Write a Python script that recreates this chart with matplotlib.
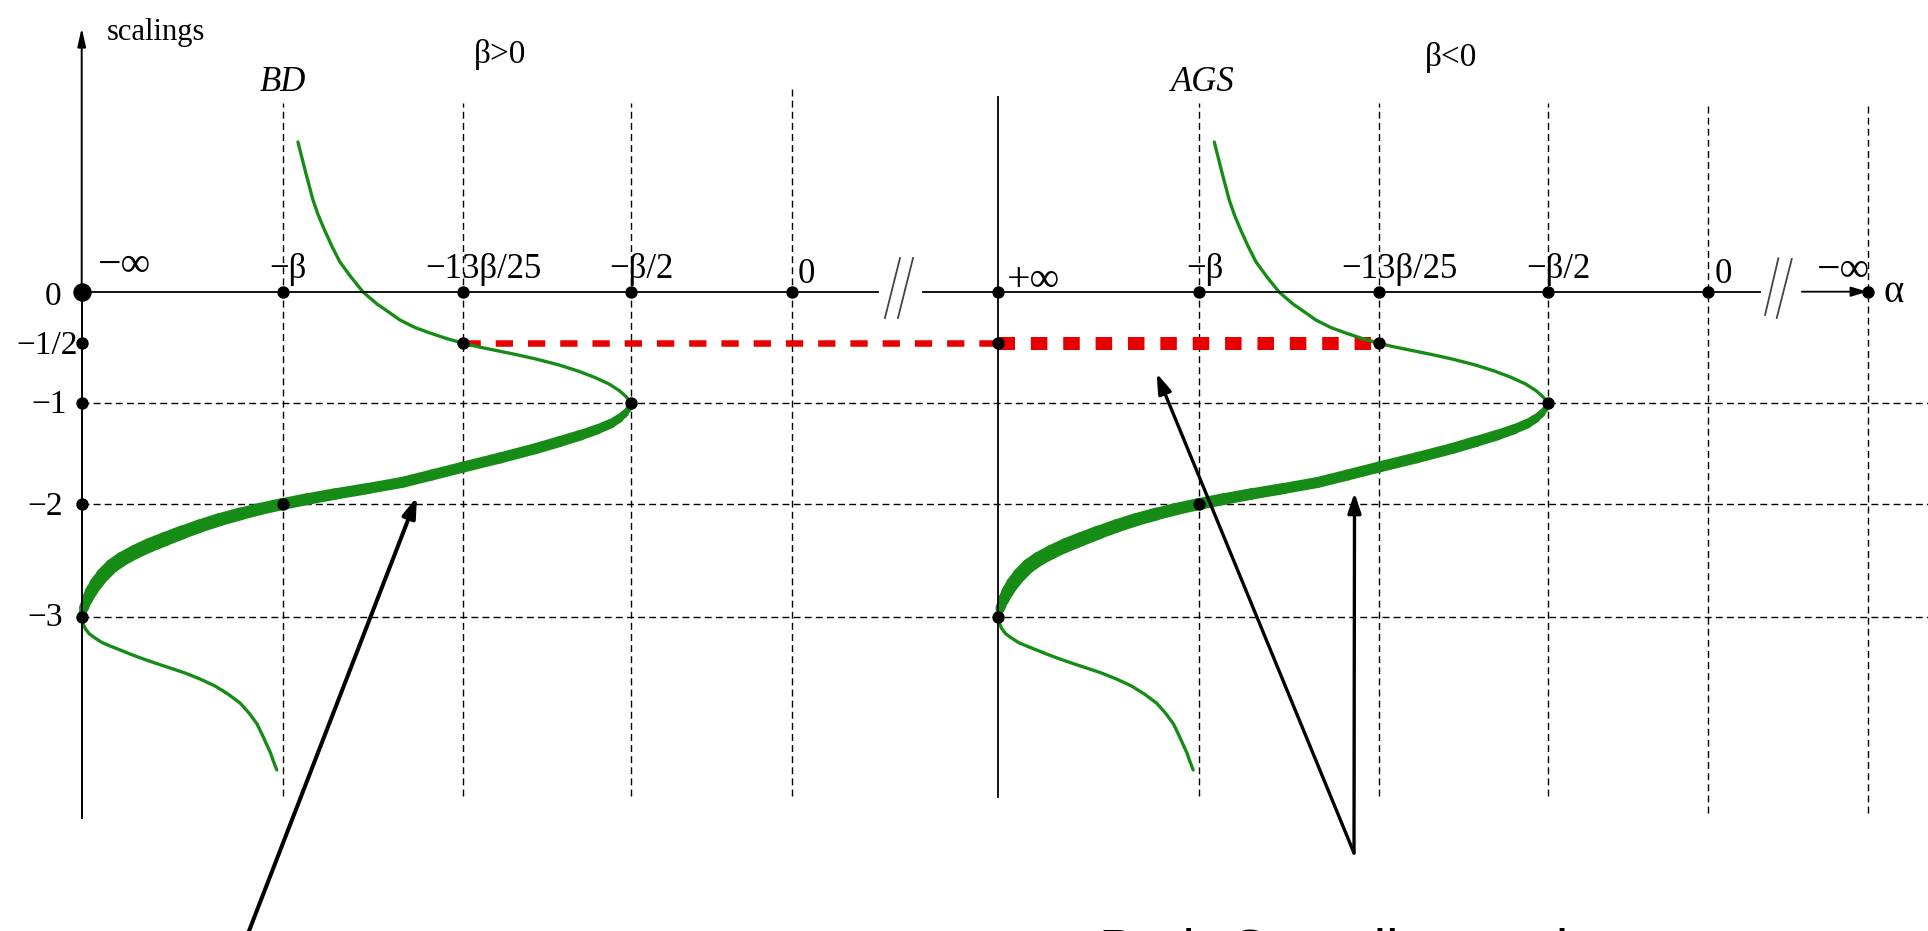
import numpy as np
import matplotlib
matplotlib.use("Agg")
import matplotlib.pyplot as plt
from matplotlib.collections import LineCollection


# ----------------------------------------------- DATA -----------------------------------------------------------------
# alpha axis is schematic: one slot per marked value, the beta<0 panel starts at slot 5
alpha_labels_pos = ["\u2212\u221e", "\u2212\u03b2", "\u221213\u03b2/25", "\u2212\u03b2/2", "0"]
alpha_labels_neg = ["+\u221e", "\u2212\u03b2", "\u221213\u03b2/25", "\u2212\u03b2/2", "0", "\u2212\u221e"]
scaling_values = [0, -0.5, -1, -2, -3]
scaling_labels = ["0", "\u22121/2", "\u22121", "\u22122", "\u22123"]

# scaling curve of the beta>0 panel (alpha slot, scaling), the beta<0 panel is the same curve
curve_top_x = [1.085, 1.124, 1.168, 1.197, 1.232, 1.272, 1.317, 1.378, 1.445, 1.522, 1.594, 1.649, 1.732, 1.815,
               1.909, 2.0, 2.087, 2.189, 2.308, 2.434, 2.565, 2.685, 2.786, 2.870, 2.930, 2.971, 2.992, 3.0]
curve_top_y = [1.386, 1.127, 0.849, 0.710, 0.571, 0.423, 0.275, 0.136, -0.003, -0.119, -0.206, -0.274, -0.347,
               -0.400, -0.455, -0.5, -0.529, -0.558, -0.592, -0.631, -0.678, -0.731, -0.785, -0.839, -0.893,
               -0.943, -0.977, -1.0]
curve_mid_x = [3.0, 2.989, 2.965, 2.930, 2.882, 2.798, 2.703, 2.577, 2.434, 2.219, 2.0, 1.826, 1.660, 1.472, 1.290,
               1.140, 1.0, 0.888, 0.788, 0.688, 0.589, 0.499, 0.415, 0.335, 0.265, 0.201, 0.151, 0.106, 0.071,
               0.046, 0.026, 0.011, 0.0]
curve_mid_y = [-1.0, -1.052, -1.101, -1.151, -1.201, -1.260, -1.315, -1.379, -1.449, -1.543, -1.633, -1.712,
               -1.786, -1.846, -1.901, -1.950, -2.0, -2.044, -2.089, -2.138, -2.195, -2.253, -2.311, -2.368, -2.426,
               -2.488, -2.550, -2.630, -2.710, -2.781, -2.852, -2.923, -3.0]
curve_low_x = [0.0, 0.004, 0.016, 0.036, 0.066, 0.101, 0.141, 0.191, 0.240, 0.300, 0.365, 0.440, 0.514, 0.589,
               0.664, 0.728, 0.788, 0.833, 0.873, 0.897, 0.922, 0.940, 0.952, 0.971]
curve_low_y = [-3.0, -3.049, -3.105, -3.156, -3.197, -3.239, -3.271, -3.308, -3.345, -3.387, -3.429, -3.475,
               -3.521, -3.577, -3.642, -3.716, -3.799, -3.892, -3.994, -4.086, -4.188, -4.262, -4.327, -4.419]

# marked points on the curve
marked_x = [2, 3, 1]
marked_y = [-0.5, -1, -2]

# scaling segment of the beta>0 panel carried over to beta<0 (red dashes)
red_thin_x = [2, 5]
red_thick_x = [5, 7]
red_level = -0.5


# ----------------------------------------------- LAYOUT ---------------------------------------------------------------
PT = 72 / 100  # points per pixel at dpi 100
W, H = 1928, 931
SLOT_IDX = np.arange(-1, 12)
SLOT_PX = np.array([-119.2, 81.7, 282.6, 463.4, 630.8, 791.5, 998.2, 1199.0, 1379.0, 1547.5, 1707.7, 1867.5, 2067.5])
LEVEL = np.array([-6, -3, -2, -1, -0.5, 0, 3])
LEVEL_PX = np.array([940.7, 616.7, 504.0, 403.3, 343.3, 291.7, -32.3])

SERIF = ["Liberation Serif", "DejaVu Serif"]
GREEN = "#168c16"
RED = "#e80000"
DASH = (0, (5, 3))

# per label: dx to the left edge, dy of the baseline above the axis (pixels), font size
POS_DX = [16, -13, -38, -22, 6]
POS_DY = [16, 14, 14, 14, 9]
POS_FS = [30, 25, 25, 25, 25]
NEG_DX = [9, -13, -38, -21, 7, -51]
NEG_DY = [1, 14, 14, 14, 9, 11]
NEG_FS = [30, 25, 25, 25, 25, 30]
Y_DX = [-20, -4, -15, -19, -19]
Y_DY = [-2, 1, 2, 1, 2]
MID_WIDTH = [3.5, 5, 6.5, 7.5, 8.5, 9, 9.5, 10, 10, 10, 10, 10, 10, 10, 10.5, 10.5, 11, 11, 11.5, 12, 12, 12.5,
             13, 13, 13, 13, 13, 12.5, 12, 11, 10, 8, 6]


# ----------------------------------------------- FUNCTIONS ------------------------------------------------------------
def _x_fwd(s):
    return np.interp(s, SLOT_IDX, SLOT_PX)


def _x_inv(p):
    return np.interp(p, SLOT_PX, SLOT_IDX)


def _y_fwd(v):
    return np.interp(v, LEVEL, -LEVEL_PX)


def _y_inv(t):
    return np.interp(t, -LEVEL_PX, LEVEL)


def _draw_curve(ax, shift):
    ax.plot(np.array(curve_top_x) + shift, curve_top_y, color=GREEN, lw=3.3 * PT, solid_capstyle="round",
            solid_joinstyle="round", zorder=3)
    ax.plot(np.array(curve_low_x) + shift, curve_low_y, color=GREEN, lw=3.3 * PT, solid_capstyle="round",
            solid_joinstyle="round", zorder=3)
    pts = np.column_stack([np.array(curve_mid_x) + shift, curve_mid_y])
    segs = np.stack([pts[:-1], pts[1:]], axis=1)
    widths = [(a + b) / 2 * PT * 1.1 for a, b in zip(MID_WIDTH[:-1], MID_WIDTH[1:])]
    ax.add_collection(LineCollection(segs, linewidths=widths, colors=GREEN, capstyle="round", joinstyle="round",
                                     zorder=3))
    ax.plot(np.array(marked_x) + shift, marked_y, "o", color="black", ms=11 * PT, zorder=6)


# ----------------------------------------------- MAIN BODY ------------------------------------------------------------
def main():
    fig = plt.figure(figsize=(W / 100, H / 100), dpi=100)
    ax = fig.add_axes([0, 0, 1, 1])
    ax.set_xscale("function", functions=(_x_fwd, _x_inv))
    ax.set_yscale("function", functions=(_y_fwd, _y_inv))
    ax.axis("off")
    x_max = float(_x_inv(W))

    # dashed guide lines
    for s in [1, 2, 3, 4, 6, 7, 8, 9, 10]:
        top = 1.895 if s == 4 else 1.747
        bottom = -4.818 if s >= 9 else -4.66
        ax.plot([s, s], [bottom, top], color="black", lw=1.0, ls=DASH, zorder=1)
    for v in scaling_values[2:]:
        ax.plot([0, x_max], [v, v], color="black", lw=1.0, ls=DASH, zorder=1)

    # axes drawn by hand: scalings axis, +inf line, broken alpha axis
    ax.plot([0, 0], [-4.864, 0], color="black", lw=1.4, zorder=4)
    ax.annotate("", xy=(0, 2.442), xytext=(0, 0),
                arrowprops=dict(arrowstyle="-|>,head_length=1.1,head_width=0.25", lw=1.4, color="black",
                                shrinkA=0, shrinkB=0, mutation_scale=10), zorder=4)
    ax.plot([5, 5], [-4.669, 1.803], color="black", lw=1.3, zorder=4)
    ax.plot([0, 4.418], [0, 0], color="black", lw=1.3, zorder=4)
    ax.plot([4.636, 9.327], [0, 0], color="black", lw=1.3, zorder=4)
    ax.annotate("", xy=(10, 0), xytext=(9.589, 0),
                arrowprops=dict(arrowstyle="-|>,head_length=1.0,head_width=0.3", lw=1.3, color="black",
                                shrinkA=0, shrinkB=0, mutation_scale=10), zorder=4)
    for (x0, y0, x1, y1) in [(4.452, -0.255, 4.525, 0.312), (4.515, -0.255, 4.588, 0.312),
                             (9.359, -0.226, 9.442, 0.309), (9.432, -0.255, 9.526, 0.303)]:
        ax.plot([x0, x1], [y0, y1], color="#444444", lw=1.3, zorder=4)

    # red scaling segment
    ax.plot(red_thin_x, [red_level] * 2, color=RED, lw=6.5 * PT, ls=(0, (2.66, 2.3)), zorder=2)
    ax.plot(red_thick_x, [red_level] * 2, color=RED, lw=13 * PT, ls=(0, (1.27, 1.22)), zorder=2)

    # scaling curves
    _draw_curve(ax, 0)
    _draw_curve(ax, 5)

    # dots on the axes
    ax.plot([0], [0], "o", color="black", ms=17 * PT, zorder=6)
    ax.plot(list(range(1, 11)), [0] * 10, "o", color="black", ms=11 * PT, zorder=6)
    ax.plot([0, 0, 0, 0, 5, 5], [-0.5, -1, -2, -3, -0.5, -3], "o", color="black", ms=11 * PT, zorder=6)

    # tick labels
    for i, lab in enumerate(alpha_labels_pos):
        ax.annotate(lab, (i, 0), xytext=(POS_DX[i] * PT, POS_DY[i] * PT), textcoords="offset points",
                    ha="left", va="baseline", fontsize=POS_FS[i], family=SERIF)
    for i, lab in enumerate(alpha_labels_neg):
        ax.annotate(lab, (i + 5, 0), xytext=(NEG_DX[i] * PT, NEG_DY[i] * PT), textcoords="offset points",
                    ha="left", va="baseline", fontsize=NEG_FS[i], family=SERIF)
    for i, lab in enumerate(scaling_labels):
        ax.annotate(lab, (0, scaling_values[i]), xytext=(Y_DX[i] * PT, Y_DY[i] * PT), textcoords="offset points",
                    ha="right", va="center_baseline", fontsize=24, family=SERIF)

    ax.annotate("scalings", (0, 2.442), xytext=(25 * PT, -12 * PT), textcoords="offset points",
                ha="left", va="baseline", fontsize=22, family=SERIF)
    ax.annotate("\u03b1", (10, 0), xytext=(16 * PT, 4 * PT), textcoords="offset points",
                ha="left", va="center_baseline", fontsize=28, family=SERIF)
    ax.text(2.219, 2.118, "\u03b2>0", ha="center", va="baseline", fontsize=24, family=SERIF)
    ax.text(7.427, 2.090, "\u03b2<0", ha="center", va="baseline", fontsize=24, family=SERIF)
    ax.text(1, 1.861, "BD", ha="center", va="baseline", fontsize=25, style="italic", family=SERIF)
    ax.text(6.02, 1.861, "AGS", ha="center", va="baseline", fontsize=25, style="italic", family=SERIF)

    # call-out arrows
    ax.annotate("", xy=(1.743, -1.930), xytext=(245.5 / W, -9 / H), textcoords="figure fraction",
                arrowprops=dict(arrowstyle="-|>,head_length=0.6,head_width=0.2", lw=2.9, color="black",
                                shrinkA=0, shrinkB=0, mutation_scale=20), zorder=7)
    for tip in [(5.789, -0.75), (6.864, -1.888)]:
        ax.annotate("", xy=tip, xytext=(1354 / W, (H - 853) / H), textcoords="figure fraction",
                    arrowprops=dict(arrowstyle="-|>,head_length=0.6,head_width=0.2", lw=2.4, color="black",
                                    shrinkA=0, shrinkB=0, mutation_scale=20), zorder=7)
    # caption below the picture, only its top edge is in view
    fig.text(1099 / W, (H - 967.5) / H, "Both Crossline and", fontsize=40, family=["Liberation Sans", "DejaVu Sans"],
             ha="left", va="baseline")

    ax.set_xlim(float(_x_inv(0)), x_max)
    ax.set_ylim(float(_y_inv(-H)), float(_y_inv(0)))
    fig.savefig("out.png", dpi=100)


if __name__ == '__main__':
    main()
